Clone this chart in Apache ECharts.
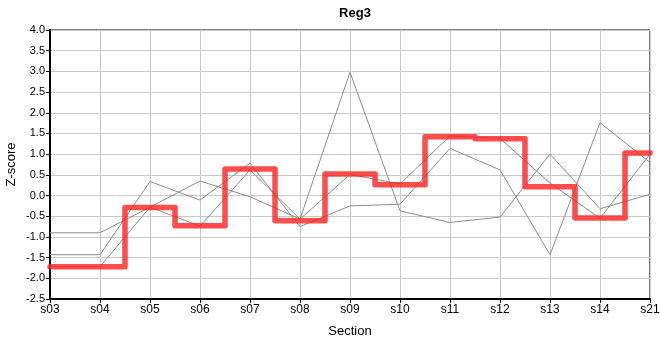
<!DOCTYPE html>
<html>
<head>
<meta charset="utf-8">
<script src="https://cdn.jsdelivr.net/npm/echarts@6/dist/echarts.min.js"></script>
<style>html,body{margin:0;padding:0;background:#fff}#c{width:660px;height:360px}</style>
</head>
<body>
<div id="c"></div>
<script>
var categories = ['s03','s04','s05','s06','s07','s08','s09','s10','s11','s12','s13','s14','s21'];
var gray1 = [-0.9, -0.9, -0.28, 0.35, -0.03, -0.57, 0.51, 0.28, 1.44, 1.38, 0.3, -0.55, 1.0];
var gray2 = [-1.43, -1.43, 0.34, -0.11, 0.78, -0.75, -0.25, -0.21, 1.14, 0.62, -1.43, 1.76, 0.8];
var gray3 = [-1.72, -1.72, -0.28, -0.74, 0.62, -0.57, 2.98, -0.37, -0.65, -0.52, 1.0, -0.32, 0.03];
var reg3 = [-1.72, -1.72, -0.29, -0.73, 0.64, -0.61, 0.52, 0.26, 1.42, 1.37, 0.21, -0.54, 1.03];

var font = 'Liberation Sans, Arial, sans-serif';
function grayLine(d){
  return {type:'line', data:d, symbol:'none', smooth:false,
    lineStyle:{color:'#8c8c8c', width:1}, z:2};
}
var chart = echarts.init(document.getElementById('c'));
chart.setOption({
  animation:false,
  title:{text:'Reg3', left:350, top:2, textAlign:'center',
    textStyle:{fontFamily:font, fontSize:13, fontWeight:'bold', color:'#000'}},
  grid:{left:50, right:10, top:30, bottom:61, show:true, borderColor:'#000', borderWidth:1,
    containLabel:false, outerBoundsMode:'none'},
  xAxis:{type:'category', data:categories, boundaryGap:false,
    name:'Section', nameLocation:'middle', nameGap:26, nameMoveOverlap:false,
    nameTextStyle:{fontFamily:font, fontSize:13, color:'#000'},
    axisLine:{onZero:false, lineStyle:{color:'#000', width:2}},
    axisTick:{show:true, length:4, lineStyle:{color:'#000'}},
    axisLabel:{fontFamily:font, fontSize:12, color:'#000', margin:5, interval:0},
    splitLine:{show:true, lineStyle:{color:'#c8c8c8', width:1}}},
  yAxis:{type:'value', min:-2.5, max:4.0, interval:0.5,
    name:'Z-score', nameLocation:'middle', nameGap:32, nameRotate:90, nameMoveOverlap:false,
    nameTextStyle:{fontFamily:font, fontSize:13, color:'#000'},
    axisLine:{show:true, onZero:false, lineStyle:{color:'#000', width:2}},
    axisTick:{show:true, length:4, lineStyle:{color:'#000'}},
    axisLabel:{fontFamily:font, fontSize:11, color:'#000', margin:5,
      formatter:function(v){return v.toFixed(1);}},
    splitLine:{show:true, lineStyle:{color:'#c8c8c8', width:1}}},
  series:[
    grayLine(gray1), grayLine(gray2), grayLine(gray3),
    {type:'line', data:reg3, step:'middle', symbol:'none',
      lineStyle:{color:'#ff2020', width:5.5, opacity:0.8, join:'round', cap:'round'}, z:3}
  ]
});
</script>
</body>
</html>
